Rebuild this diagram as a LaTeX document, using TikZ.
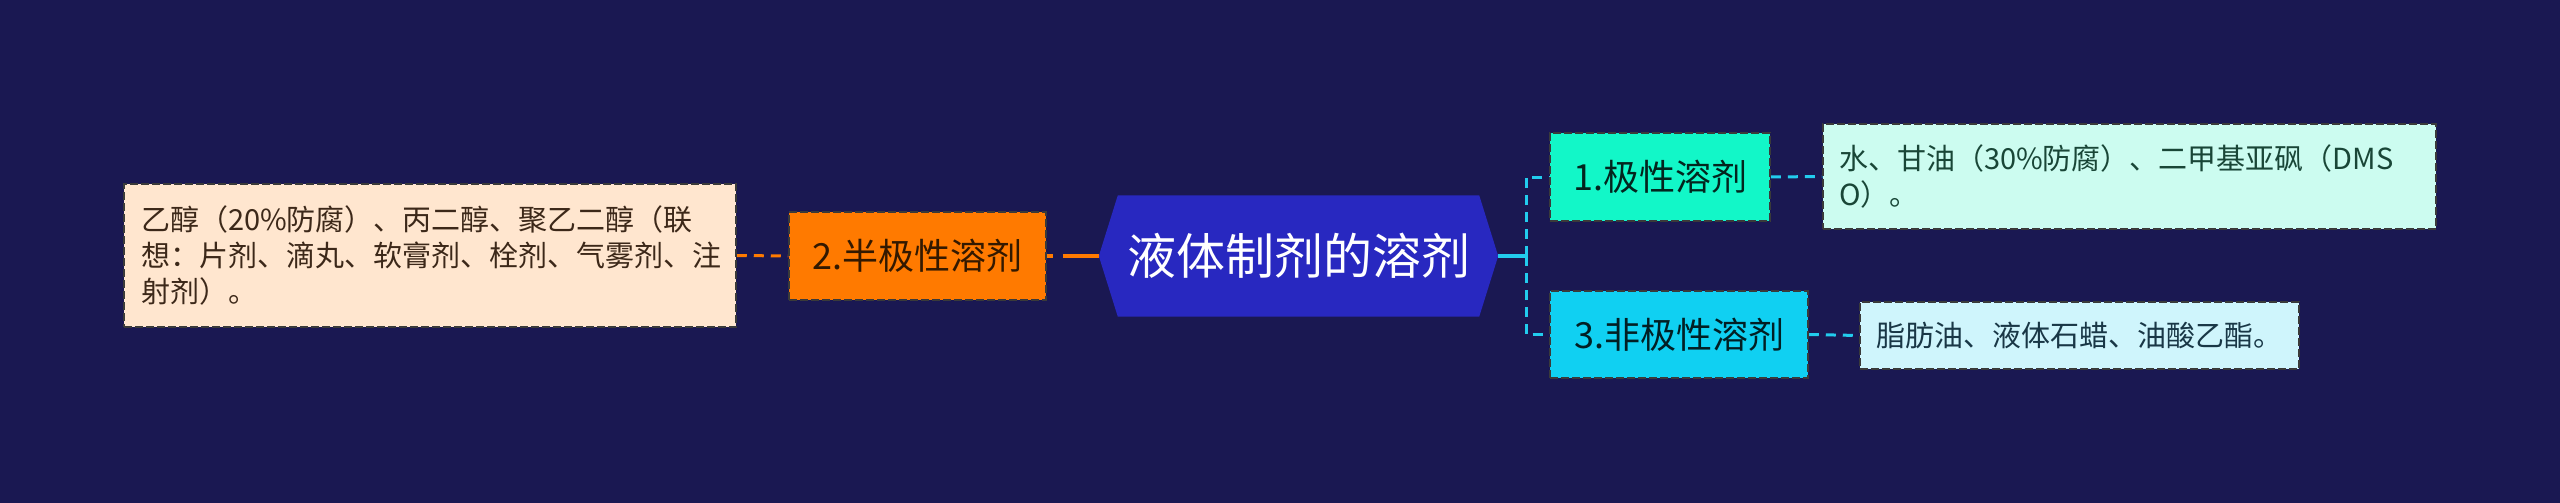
\documentclass[tikz,border=0pt]{standalone}
\usepackage{fontspec}
\setmainfont{Noto Sans CJK SC}
\usetikzlibrary{backgrounds}
\definecolor{bg}{HTML}{1A1852}
\definecolor{hexfill}{HTML}{2828C0}
\definecolor{orangec}{HTML}{FF7A00}
\definecolor{greenc}{HTML}{12F7C8}
\definecolor{cyanc}{HTML}{10D0F2}
\definecolor{linecyan}{HTML}{22CCEE}
\definecolor{leafpeach}{HTML}{FFE6CF}
\definecolor{leafmint}{HTML}{CCFCF0}
\definecolor{leafcyan}{HTML}{CFF5FC}
\definecolor{bordc}{HTML}{3A3A3A}
\begin{document}
\begin{tikzpicture}[x=1pt,y=-1pt,
  hexnode/.style={minimum width=399pt, minimum height=121pt, inner sep=0pt, text=white, font=\fontsize{49}{58}\selectfont},
  subbox/.style={draw=bordc, line width=1.5pt, dash pattern=on 8pt off 3pt, minimum height=88pt, inner sep=0pt, font=\fontsize{36}{43}\selectfont},
  leafbox/.style={draw=bordc, line width=1.5pt, dash pattern=on 8pt off 3pt, inner sep=0pt, align=left, font=\fontsize{29}{36}\selectfont},
  dashcon/.style={line width=3pt, dash pattern=on 10pt off 7pt},
]
\useasboundingbox (0,0) rectangle (2560,503);
\node[hexnode] (hex) at (1298.5,256) {液体制剂的溶剂};
\node[subbox, fill=orangec, text=black!80!orange, minimum width=257pt] (orange) at (917.5,256) {2.半极性溶剂};
\node[subbox, fill=greenc, text=black!85!greenc, minimum width=220pt] (green) at (1660,177) {1.极性溶剂};
\node[subbox, fill=cyanc, text=black!85!cyanc, minimum width=258pt, minimum height=87pt] (cyanb) at (1679,334.5) {3.非极性溶剂};
\node[leafbox, fill=leafpeach, text={rgb,255:red,60;green,40;blue,25}, text width=578pt, minimum width=612pt, minimum height=143pt] (left) at (430,255.5) {乙醇（20\%防腐）、丙二醇、聚乙二醇（联\\想：片剂、滴丸、软膏剂、栓剂、气雾剂、注\\射剂）。};
\node[leafbox, fill=leafmint, text={rgb,255:red,25;green,70;blue,55}, text width=581pt, minimum width=613pt, minimum height=105pt] (leafa) at (2129.5,176.5) {水、甘油（30\%防腐）、二甲基亚砜（DMS\\O）。};
\node[leafbox, fill=leafcyan, text={rgb,255:red,25;green,55;blue,70}, text width=407pt, minimum width=439pt, minimum height=67pt] (leafc) at (2079.5,335.5) {脂肪油、液体石蜡、油酸乙酯。};
\coordinate (j) at (1526,256);
\begin{scope}[on background layer]
\fill[bg] (0,0) rectangle (2560,503);
\fill[hexfill] (hex.west) -- ([xshift=19pt]hex.north west) -- ([xshift=-19pt]hex.north east) -- (hex.east) -- ([xshift=-19pt]hex.south east) -- ([xshift=19pt]hex.south west) -- cycle;
\draw[orangec, line width=4pt, dash pattern=on 6pt off 10pt on 60pt off 0pt] (orange.east) -- (hex.west);
\draw[orangec, dashcon] (left.east) -- (orange.west);
\draw[linecyan, line width=4pt] (hex.east) -- (j);
\draw[linecyan, dashcon] (j) |- (green.west);
\draw[linecyan, dashcon] (j) |- (cyanb.west);
\draw[linecyan, dashcon] (green.east) -- (leafa.west);
\draw[linecyan, dashcon] (cyanb.east) -- (leafc.west);
\end{scope}
\end{tikzpicture}
\end{document}
